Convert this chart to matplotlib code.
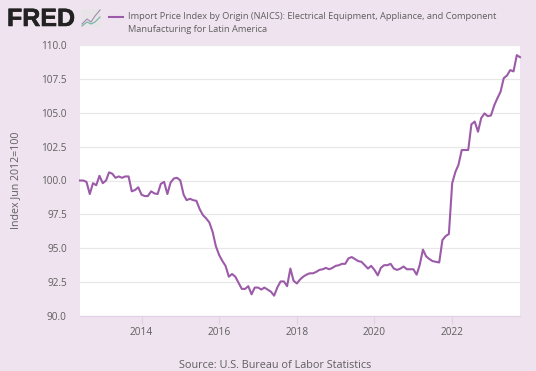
import matplotlib
matplotlib.use("Agg")
import matplotlib.pyplot as plt
import matplotlib.dates as mdates
import matplotlib.patheffects as pe
import pandas as pd
from matplotlib.lines import Line2D
from matplotlib.patches import Rectangle

plt.rcParams["font.family"] = ["Open Sans", "DejaVu Sans"]

# monthly values, Jun 2012 to Oct 2023
values = [
    100.0, 100.0, 99.9, 99.0, 99.8, 99.65, 100.35, 99.8, 100.0, 100.6, 100.5, 100.2,
    100.3, 100.2, 100.3, 100.3, 99.2, 99.3, 99.5, 98.95, 98.85, 98.85, 99.2, 99.05,
    99.0, 99.75, 99.9, 99.0, 99.85, 100.15, 100.2, 100.0, 98.95, 98.55, 98.65, 98.55,
    98.5, 97.9, 97.45, 97.2, 96.9, 96.2, 95.15, 94.5, 94.05, 93.7, 92.9, 93.1,
    92.9, 92.45, 92.0, 92.0, 92.2, 91.6, 92.1, 92.1, 91.95, 92.1, 91.95, 91.8,
    91.5, 92.1, 92.55, 92.55, 92.2, 93.5, 92.6, 92.4, 92.7, 92.9, 93.05, 93.15,
    93.15, 93.25, 93.4, 93.45, 93.55, 93.45, 93.55, 93.7, 93.75, 93.85, 93.85, 94.25,
    94.35, 94.2, 94.05, 94.0, 93.75, 93.5, 93.7, 93.4, 93.0, 93.55, 93.75, 93.75,
    93.85, 93.5, 93.4, 93.5, 93.65, 93.45, 93.45, 93.45, 93.05, 93.75, 94.9, 94.4,
    94.2, 94.05, 94.0, 93.95, 95.6, 95.9, 96.05, 99.8, 100.65, 101.15, 102.25, 102.25,
    102.25, 104.15, 104.35, 103.6, 104.6, 104.95, 104.75, 104.8, 105.55, 106.05, 106.55, 107.55,
    107.75, 108.15, 108.05, 109.25, 109.1,
]
dates = pd.date_range("2012-06-01", periods=len(values), freq="MS")

y_ticks = [90.0, 92.5, 95.0, 97.5, 100.0, 102.5, 105.0, 107.5, 110.0]
x_years = [2014, 2016, 2018, 2020, 2022]

bg = "#efe3f0"
purple = "#9c5ba8"
grey = "#5f5f5f"

W, H = 536, 371
fig = plt.figure(figsize=(W / 100, H / 100), dpi=100, facecolor=bg)
ax = fig.add_axes([80 / W, 1 - 316 / H, 440 / W, 271 / H])

ax.plot(dates, values, color=purple, lw=1.5, solid_joinstyle="round", clip_on=False, zorder=3)

ax.set_xlim(dates[0], dates[-1])
ax.set_ylim(90, 110)
ax.set_yticks(y_ticks)
ax.set_yticklabels([f"{v:.1f}" for v in y_ticks], fontsize=7.2, color=grey)
ax.set_xticks([pd.Timestamp(f"{y}-01-01") for y in x_years])
ax.xaxis.set_major_formatter(mdates.DateFormatter("%Y"))
ax.tick_params(axis="x", labelsize=7.3, labelcolor=grey, color="#e3cfe6", length=6, width=0.8, pad=2)
ax.tick_params(axis="y", length=0, pad=9.5)
ax.grid(axis="y", color="#e8e8e8", lw=0.9)
ax.set_axisbelow(True)
for side in ["top", "right", "left"]:
    ax.spines[side].set_visible(False)
ax.spines["bottom"].set_color("#e3cfe6")

ax.set_ylabel("Index Jun 2012=100", fontsize=7.7, color=grey)
ax.yaxis.set_label_coords((21 - 80) / 440, 0.5)

# header
fig.text(7 / W, 1 - 26 / H, "FRED", fontsize=18, fontweight="bold", color="#222222",
         family="Liberation Sans", va="baseline",
         path_effects=[pe.withStroke(linewidth=0.4, foreground="#222222")])
fig.add_artist(Rectangle((81 / W, 1 - 27 / H), 20 / W, 18 / H, transform=fig.transFigure,
                         facecolor="#e8e4e8", edgecolor="none"))
fig.add_artist(Line2D([82 / W, 87 / W, 91 / W, 95 / W, 100 / W],
                      [1 - 24 / H, 1 - 19 / H, 1 - 22 / H, 1 - 16 / H, 1 - 10 / H],
                      color="#a58ab0", lw=0.8))
fig.add_artist(Line2D([82 / W, 87 / W, 91 / W, 95 / W, 100 / W],
                      [1 - 26 / H, 1 - 22 / H, 1 - 24 / H, 1 - 22 / H, 1 - 17 / H],
                      color="#6fb5a0", lw=0.8))
fig.add_artist(Line2D([109 / W, 123 / W], [1 - 16.5 / H, 1 - 16.5 / H], color=purple, lw=1.5))
fig.text(128 / W, 1 - 16.5 / H,
         "Import Price Index by Origin (NAICS): Electrical Equipment, Appliance, and Component",
         fontsize=6.7, color=grey, va="center")
fig.text(128 / W, 1 - 29 / H, "Manufacturing for Latin America", fontsize=6.7, color=grey, va="center")

fig.text(275.5 / W, 1 - 366 / H, "Source: U.S. Bureau of Labor Statistics", fontsize=7.8,
         color=grey, ha="center", va="center")

fig.savefig("out.png", dpi=100, facecolor=bg)
